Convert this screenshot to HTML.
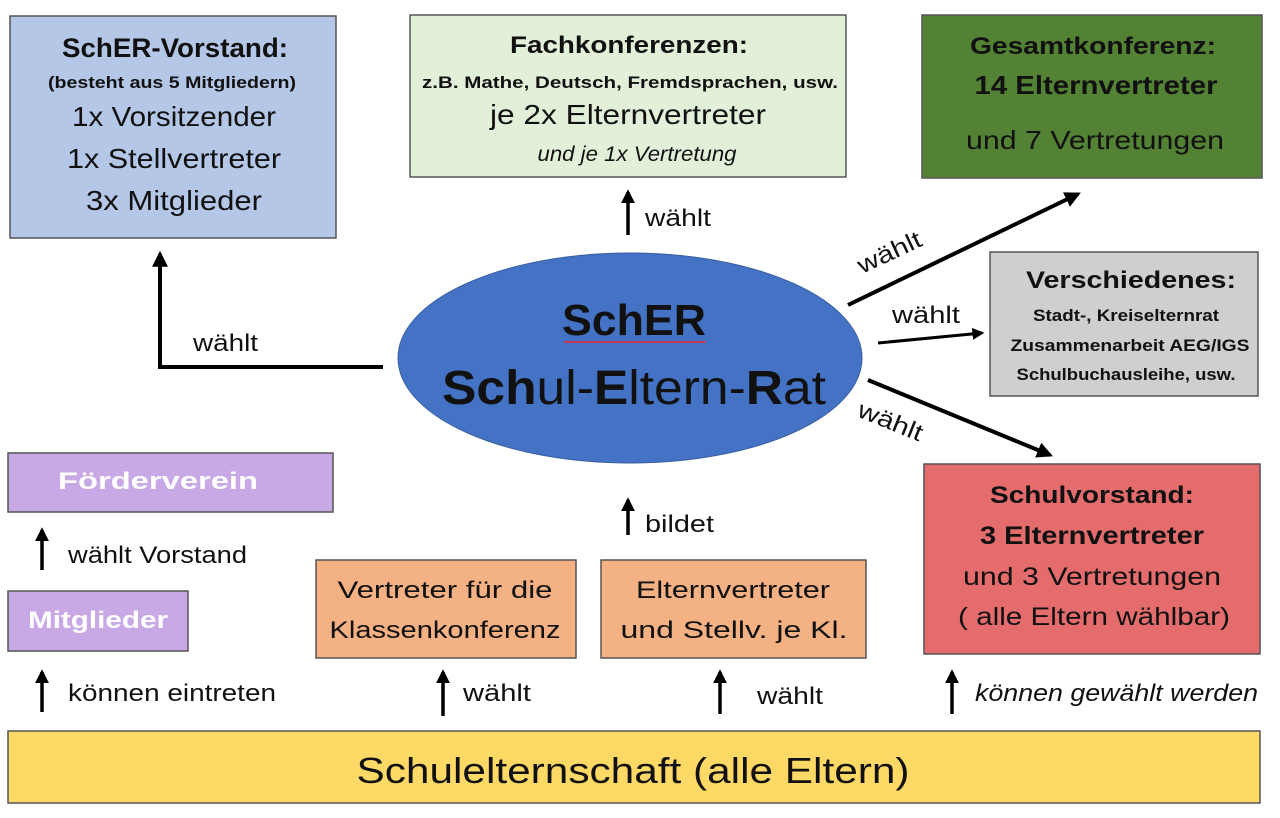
<!DOCTYPE html>
<html><head><meta charset="utf-8"><style>
body{margin:0;background:#fff}
svg{display:block;font-family:"Liberation Sans",sans-serif}
</style></head><body>
<svg width="1280" height="818" viewBox="0 0 1280 818">
<defs><marker id="a" viewBox="0 0 10 10" refX="8" refY="5" markerWidth="4" markerHeight="4" orient="auto"><path d="M0,0L10,5L0,10z" fill="#000"/></marker></defs>
<g stroke="#555" stroke-width="1.5">
<rect x="10" y="16" width="326" height="222" fill="#b4c7e7"/>
<rect x="410" y="15" width="436" height="162" fill="#e2f0d9"/>
<rect x="922" y="15" width="340" height="163" fill="#548235"/>
<rect x="990" y="252" width="268" height="144" fill="#d0cece"/>
<rect x="924" y="464" width="336" height="190" fill="#e46c6c"/>
<rect x="8" y="453" width="325" height="59" fill="#c9a8e6"/>
<rect x="8" y="591" width="180" height="60" fill="#c9a8e6"/>
<rect x="316" y="560" width="260" height="98" fill="#f4b183"/>
<rect x="601" y="560" width="265" height="98" fill="#f4b183"/>
<rect x="8" y="731" width="1252" height="72" fill="#ffd966"/>
</g>
<ellipse cx="630" cy="358" rx="232" ry="105" fill="#4472c4" stroke="#3a5fa0"/>
<g fill="#111" text-anchor="middle" lengthAdjust="spacingAndGlyphs">
<text x="175" y="57" font-size="27" font-weight="bold" textLength="226" lengthAdjust="spacingAndGlyphs">SchER-Vorstand:</text>
<text x="172" y="88" font-size="17" font-weight="bold" textLength="248" lengthAdjust="spacingAndGlyphs">(besteht aus 5 Mitgliedern)</text>
<text x="174" y="126" font-size="28" textLength="204" lengthAdjust="spacingAndGlyphs">1x Vorsitzender</text>
<text x="174" y="168" font-size="28" textLength="214" lengthAdjust="spacingAndGlyphs">1x Stellvertreter</text>
<text x="174" y="210" font-size="28" textLength="176" lengthAdjust="spacingAndGlyphs">3x Mitglieder</text>
<text x="629" y="53" font-size="24" font-weight="bold" textLength="238" lengthAdjust="spacingAndGlyphs">Fachkonferenzen:</text>
<text x="630" y="88" font-size="17" font-weight="bold" textLength="416" lengthAdjust="spacingAndGlyphs">z.B. Mathe, Deutsch, Fremdsprachen, usw.</text>
<text x="628" y="124" font-size="28" textLength="276" lengthAdjust="spacingAndGlyphs">je 2x Elternvertreter</text>
<text x="637" y="161" font-size="21" font-style="italic" textLength="199" lengthAdjust="spacingAndGlyphs">und je 1x Vertretung</text>
<text x="1093" y="54" font-size="24" font-weight="bold" textLength="246" lengthAdjust="spacingAndGlyphs">Gesamtkonferenz:</text>
<text x="1096" y="94" font-size="26" font-weight="bold" textLength="243" lengthAdjust="spacingAndGlyphs">14 Elternvertreter</text>
<text x="1095" y="149" font-size="26" textLength="258" lengthAdjust="spacingAndGlyphs">und 7 Vertretungen</text>
<text x="1131" y="288" font-size="24" font-weight="bold" textLength="210" lengthAdjust="spacingAndGlyphs">Verschiedenes:</text>
<text x="1126" y="321" font-size="17" font-weight="bold" textLength="186" lengthAdjust="spacingAndGlyphs">Stadt-, Kreiselternrat</text>
<text x="1130" y="351" font-size="17" font-weight="bold" textLength="239" lengthAdjust="spacingAndGlyphs">Zusammenarbeit AEG/IGS</text>
<text x="1126" y="380" font-size="17" font-weight="bold" textLength="219" lengthAdjust="spacingAndGlyphs">Schulbuchausleihe, usw.</text>
<text x="1092" y="503" font-size="24" font-weight="bold" textLength="204" lengthAdjust="spacingAndGlyphs">Schulvorstand:</text>
<text x="1092" y="544" font-size="25" font-weight="bold" textLength="224" lengthAdjust="spacingAndGlyphs">3 Elternvertreter</text>
<text x="1092" y="585" font-size="25" textLength="258" lengthAdjust="spacingAndGlyphs">und 3 Vertretungen</text>
<text x="1094" y="625" font-size="25" textLength="272" lengthAdjust="spacingAndGlyphs">( alle Eltern wählbar)</text>
<text x="158" y="489" font-size="24" font-weight="bold" fill="#fff" textLength="200" lengthAdjust="spacingAndGlyphs">Förderverein</text>
<text x="98" y="628" font-size="24" font-weight="bold" fill="#fff" textLength="140" lengthAdjust="spacingAndGlyphs">Mitglieder</text>
<text x="445" y="598" font-size="24" textLength="215" lengthAdjust="spacingAndGlyphs">Vertreter für die</text>
<text x="445" y="638" font-size="24" textLength="231" lengthAdjust="spacingAndGlyphs">Klassenkonferenz</text>
<text x="733" y="598" font-size="24" textLength="194" lengthAdjust="spacingAndGlyphs">Elternvertreter</text>
<text x="734" y="638" font-size="24" textLength="227" lengthAdjust="spacingAndGlyphs">und Stellv. je Kl.</text>
<text x="633" y="783" font-size="36" textLength="553" lengthAdjust="spacingAndGlyphs">Schulelternschaft (alle Eltern)</text>
<text x="634" y="335" font-size="44" font-weight="bold" textLength="144" lengthAdjust="spacingAndGlyphs">SchER</text>
<text x="634" y="404" font-size="48" textLength="384" lengthAdjust="spacingAndGlyphs"><tspan font-weight="bold">Sch</tspan>ul-<tspan font-weight="bold">E</tspan>ltern-<tspan font-weight="bold">R</tspan>at</text>
</g>
<line x1="564" y1="342" x2="706" y2="342" stroke="#c0395a" stroke-width="2"/>
<g stroke="#000" stroke-width="4" fill="none">
<polyline points="383,367 160,367 160,254" marker-end="url(#a)"/>
<line x1="848" y1="305" x2="1078" y2="194" marker-end="url(#a)"/>
<line x1="878" y1="343" x2="982" y2="333" stroke-width="3" marker-end="url(#a)"/>
<line x1="868" y1="380" x2="1050" y2="455" marker-end="url(#a)"/>
<line x1="628" y1="235" x2="628" y2="192" stroke-width="3.5" marker-end="url(#a)"/>
<line x1="628" y1="535" x2="628" y2="500" stroke-width="3.5" marker-end="url(#a)"/>
<line x1="42" y1="570" x2="42" y2="530" stroke-width="3.5" marker-end="url(#a)"/>
<line x1="42" y1="712" x2="42" y2="672" stroke-width="3.5" marker-end="url(#a)"/>
<line x1="443" y1="716" x2="443" y2="672" stroke-width="3.5" marker-end="url(#a)"/>
<line x1="720" y1="714" x2="720" y2="672" stroke-width="3.5" marker-end="url(#a)"/>
<line x1="952" y1="714" x2="952" y2="672" stroke-width="3.5" marker-end="url(#a)"/>
</g>
<g fill="#111" font-size="24">
<text x="193" y="351" textLength="65" lengthAdjust="spacingAndGlyphs">wählt</text>
<text x="645" y="226" textLength="66" lengthAdjust="spacingAndGlyphs">wählt</text>
<text x="645" y="532" textLength="69" lengthAdjust="spacingAndGlyphs">bildet</text>
<text x="68" y="563" textLength="179" lengthAdjust="spacingAndGlyphs">wählt Vorstand</text>
<text x="68" y="701" textLength="208" lengthAdjust="spacingAndGlyphs">können eintreten</text>
<text x="463" y="701" textLength="68" lengthAdjust="spacingAndGlyphs">wählt</text>
<text x="757" y="704" textLength="66" lengthAdjust="spacingAndGlyphs">wählt</text>
<text x="975" y="701" font-style="italic" textLength="283" lengthAdjust="spacingAndGlyphs">können gewählt werden</text>
<text x="892" y="323" textLength="68" lengthAdjust="spacingAndGlyphs">wählt</text>
<text x="0" y="0" transform="translate(862,274) rotate(-25)" textLength="68" lengthAdjust="spacingAndGlyphs">wählt</text>
<text x="0" y="0" transform="translate(856,416) rotate(22)" textLength="68" lengthAdjust="spacingAndGlyphs">wählt</text>
</g>
</svg>
</body></html>
